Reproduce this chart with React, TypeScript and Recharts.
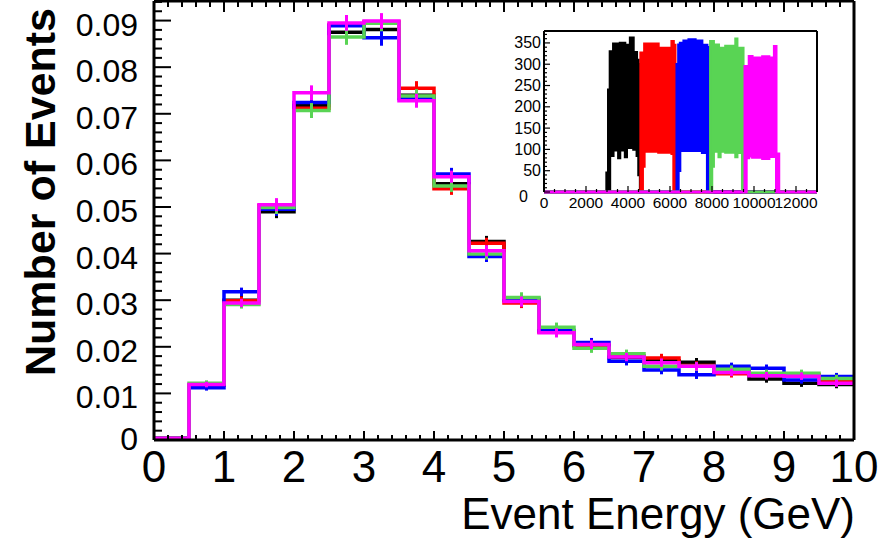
import React from 'react'
import { ComposedChart, Line, Scatter, ErrorBar, Area, XAxis, YAxis } from 'recharts'

const FONT = '"Liberation Sans", Arial, Helvetica, sans-serif'

// 20 energy bins of 0.5 GeV
const binEdges = [0, 0.5, 1, 1.5, 2, 2.5, 3, 3.5, 4, 4.5, 5, 5.5, 6, 6.5, 7, 7.5, 8, 8.5, 9, 9.5, 10]

// normalised event counts per bin, one list per sample
const blackCounts = [0.0004, 0.0118, 0.03, 0.049, 0.0718, 0.0875, 0.0881, 0.074, 0.055, 0.0426, 0.03, 0.0233, 0.0203, 0.0177, 0.017, 0.0167, 0.015, 0.0131, 0.0122, 0.0119]
const redCounts = [0.0004, 0.0118, 0.0299, 0.0503, 0.0712, 0.0891, 0.0897, 0.0755, 0.0539, 0.0422, 0.0294, 0.0232, 0.0203, 0.018, 0.0176, 0.016, 0.0142, 0.014, 0.014, 0.0125]
const blueCounts = [0.0004, 0.0112, 0.0318, 0.0495, 0.0724, 0.0889, 0.0863, 0.0733, 0.0571, 0.0394, 0.0302, 0.0235, 0.0209, 0.0169, 0.015, 0.014, 0.0158, 0.0154, 0.0129, 0.0136]
const greenCounts = [0.0004, 0.0122, 0.0291, 0.0499, 0.0707, 0.0865, 0.0894, 0.0738, 0.0545, 0.0399, 0.0306, 0.0242, 0.0197, 0.0185, 0.0158, 0.0158, 0.0152, 0.0143, 0.0143, 0.0132]
const magentaCounts = [0.0004, 0.0119, 0.0294, 0.0505, 0.0745, 0.0895, 0.0899, 0.0728, 0.0565, 0.0406, 0.0297, 0.023, 0.0205, 0.0178, 0.0166, 0.0158, 0.0145, 0.0138, 0.0137, 0.0122]

// statistical error per bin
const binErrors = [0.0002, 0.0006, 0.0009, 0.0014, 0.0016, 0.0017, 0.0017, 0.0015, 0.0013, 0.0012, 0.0011, 0.001, 0.001, 0.0009, 0.0009, 0.0009, 0.0008, 0.0008, 0.0008, 0.0008]

const xMajorTicks = [0, 1, 2, 3, 4, 5, 6, 7, 8, 9, 10]
const yMajorTicks = [0, 0.01, 0.02, 0.03, 0.04, 0.05, 0.06, 0.07, 0.08, 0.09]

// inset: raw spectra, [channel, lower envelope, upper envelope]
type Env = [number, number, number][]
const insetBlack: Env = [
  [0, 0, 0], [2980, 0, 45], [3060, 0, 240], [3140, 85, 330], [3300, 98, 348], [3540, 80, 345],
  [3620, 98, 350], [3860, 82, 340], [3940, 104, 345], [4100, 104, 362], [4260, 100, 328],
  [4420, 85, 310], [4500, 40, 300], [4580, 0, 0], [13000, 0, 0],
]
const insetRed: Env = [
  [0, 0, 0], [4600, 0, 327], [4700, 60, 327], [4780, 95, 348], [5450, 93, 338], [6080, 90, 354],
  [6170, 0, 345], [6250, 0, 0], [13000, 0, 0],
]
const insetBlue: Env = [
  [0, 0, 0], [6320, 0, 300], [6400, 50, 346], [6480, 97, 350], [6650, 97, 355], [6890, 97, 358],
  [7210, 97, 355], [7530, 92, 345], [7770, 0, 340], [7890, 0, 0], [13000, 0, 0],
]
const insetGreen: Env = [
  [0, 0, 0], [7920, 0, 354], [8000, 60, 354], [8080, 95, 346], [8320, 82, 338], [8400, 95, 338],
  [8640, 93, 343], [9120, 82, 360], [9200, 92, 338], [9440, 0, 338], [9490, 0, 0], [13000, 0, 0],
]
const insetMagenta: Env = [
  [0, 0, 0], [9560, 0, 295], [9640, 80, 295], [9760, 84, 319], [9920, 81, 315], [10400, 78, 318],
  [10720, 83, 315], [10960, 85, 342], [11060, 0, 90], [11190, 0, 0], [13000, 0, 0],
]
const insetXMajor = [0, 2000, 4000, 6000, 8000, 10000, 12000]
const insetYMajor = [0, 50, 100, 150, 200, 250, 300, 350]

const Y_MAX = 0.0942
const INSET_X_MAX = 13000
const INSET_Y_MAX = 378

const series = [
  { key: 'black', color: '#000000', counts: blackCounts, inset: insetBlack },
  { key: 'red', color: '#ff0000', counts: redCounts, inset: insetRed },
  { key: 'blue', color: '#0000ff', counts: blueCounts, inset: insetBlue },
  { key: 'green', color: '#59d454', counts: greenCounts, inset: insetGreen },
  { key: 'magenta', color: '#ff00ff', counts: magentaCounts, inset: insetMagenta },
]

const steps = (to: number, step: number) => {
  const out: number[] = []
  for (let i = 0; i * step <= to + 1e-9; i++) out.push(Math.round(i * step * 1e6) / 1e6)
  return out
}

// step-line rows: one per bin edge, last edge repeats the last bin to close the step
const stepRows = binEdges.map((x, i) => {
  const row: Record<string, number> = { x }
  const k = Math.min(i, binEdges.length - 2)
  series.forEach((s) => (row[s.key] = s.counts[k]))
  return row
})

const errorRows = (counts: number[]) =>
  counts.map((v, i) => ({ x: (binEdges[i] + binEdges[i + 1]) / 2, y: v, err: binErrors[i] }))

const isMajor = (list: number[], v: number) => list.some((m) => Math.abs(m - v) < 1e-9)

type Side = 'bottom' | 'top' | 'left' | 'right'

// ROOT-style ticks: drawn inward from the frame, labels only on majors
function frameTick(
  side: Side,
  majors: number[],
  majorLen: number,
  minorLen: number,
  strokeWidth: number,
  label?: (x: number, y: number, v: number) => React.ReactNode
) {
  return (props: any) => {
    const { x, y, payload } = props
    const v = payload.value
    const major = isMajor(majors, v)
    const len = major ? majorLen : minorLen
    let x2 = x
    let y2 = y
    if (side === 'bottom') y2 = y - len
    if (side === 'top') y2 = y + len
    if (side === 'left') x2 = x + len
    if (side === 'right') x2 = x - len
    return (
      <g>
        <line x1={x} y1={y} x2={x2} y2={y2} stroke="#000" strokeWidth={strokeWidth} />
        {major && label ? label(x, y, v) : null}
      </g>
    )
  }
}

const mainXLabel = (x: number, y: number, v: number) => (
  <text x={x} y={y + 42} textAnchor="middle" fontSize={44} fontFamily={FONT} fill="#000">
    {v}
  </text>
)
const mainYLabel = (x: number, y: number, v: number) => (
  <text x={x - 16} y={v === 0 ? y + 10 : y + 15} textAnchor="end" fontSize={32} fontFamily={FONT} fill="#000">
    {v === 0 ? '0' : v.toFixed(2)}
  </text>
)
const insetXLabel = (x: number, y: number, v: number) => (
  <text x={x} y={y + 16} textAnchor="middle" fontSize={15.5} fontFamily={FONT} fill="#000">
    {v}
  </text>
)
const insetYLabel = (x: number, y: number, v: number) => (
  <text x={v === 0 ? x - 16 : x - 3} y={v === 0 ? y + 10 : y + 5.5} textAnchor="end" fontSize={16} fontFamily={FONT} fill="#000">
    {v}
  </text>
)

const frame = { stroke: '#000', strokeWidth: 3 }
const insetFrame = { stroke: '#000', strokeWidth: 2 }
// axes take 1px so they still render; ticks are drawn by frameTick
const axisBase = { tickSize: 0, tickMargin: 0, tickLine: false, interval: 0 as const }

const hidden = () => <g />

function MainPlot() {
  const xTicks = steps(10, 0.2)
  const yTicks = steps(Y_MAX, 0.002)
  return (
    <ComposedChart width={895} height={540} data={stepRows} margin={{ top: 0, right: 40, bottom: 99, left: 153 }}>
      <XAxis xAxisId="b" dataKey="x" type="number" domain={[0, 10]} ticks={xTicks} height={1} axisLine={frame}
        tick={frameTick('bottom', xMajorTicks, 9, 5, 2, mainXLabel)} {...axisBase} />
      <XAxis xAxisId="t" orientation="top" dataKey="x" type="number" domain={[0, 10]} ticks={xTicks} height={1} axisLine={frame}
        tick={frameTick('top', xMajorTicks, 11, 6, 2)} {...axisBase} />
      <YAxis yAxisId="l" type="number" domain={[0, Y_MAX]} ticks={yTicks} width={1} axisLine={frame}
        tick={frameTick('left', yMajorTicks, 17, 8, 2, mainYLabel)} {...axisBase} />
      <YAxis yAxisId="r" orientation="right" type="number" domain={[0, Y_MAX]} ticks={yTicks} width={1} axisLine={frame}
        tick={frameTick('right', yMajorTicks, 12, 6, 2)} {...axisBase} />
      {series.map((s) => [
        <Line key={s.key + '-h'} xAxisId="b" yAxisId="l" type="stepAfter" dataKey={s.key} stroke={s.color}
          strokeWidth={3.5} dot={false} activeDot={false} isAnimationActive={false} />,
        <Scatter key={s.key + '-e'} xAxisId="b" yAxisId="l" data={errorRows(s.counts)} dataKey="y"
          shape={hidden} isAnimationActive={false}>
          <ErrorBar dataKey="err" direction="y" width={0} stroke={s.color} strokeWidth={3} isAnimationActive={false} />
        </Scatter>,
      ])}
    </ComposedChart>
  )
}

function InsetPlot() {
  const xTicks = steps(INSET_X_MAX, 500)
  const yTicks = steps(INSET_Y_MAX, 10)
  return (
    <ComposedChart width={895} height={540} margin={{ top: 30, right: 77, bottom: 347, left: 543 }}>
      {/* bottom edge is covered by the spectra's zero lines, so no frame line there */}
      <XAxis xAxisId="b" dataKey="x" type="number" domain={[0, INSET_X_MAX]} ticks={xTicks} height={1} axisLine={false}
        tick={frameTick('bottom', insetXMajor, 6, 3, 1.2, insetXLabel)} {...axisBase} />
      <XAxis xAxisId="t" orientation="top" dataKey="x" type="number" domain={[0, INSET_X_MAX]} ticks={xTicks} height={1} axisLine={insetFrame}
        tick={frameTick('top', insetXMajor, 6, 3, 1.2)} {...axisBase} />
      <YAxis yAxisId="l" type="number" domain={[0, INSET_Y_MAX]} ticks={yTicks} width={1} axisLine={insetFrame}
        tick={frameTick('left', insetYMajor, 6, 3, 1.2, insetYLabel)} {...axisBase} />
      <YAxis yAxisId="r" orientation="right" type="number" domain={[0, INSET_Y_MAX]} ticks={yTicks} width={1} axisLine={insetFrame}
        tick={frameTick('right', insetYMajor, 6, 3, 1.2)} {...axisBase} />
      {series.map((s) => (
        <Area key={s.key} xAxisId="b" yAxisId="l" type="stepAfter"
          data={s.inset.map(([x, lo, hi]) => ({ x, band: [lo, hi] }))} dataKey="band"
          stroke={s.color} strokeWidth={2.5} fill={s.color} fillOpacity={1} dot={false} activeDot={false}
          isAnimationActive={false} />
      ))}
    </ComposedChart>
  )
}

export default function App() {
  const layer: React.CSSProperties = { position: 'absolute', left: 0, top: 0 }
  return (
    <div style={{ position: 'absolute', left: 0, top: 0, width: 895, height: 540, background: '#fff', overflow: 'hidden' }}>
      <div style={layer}>
        <MainPlot />
      </div>
      <div style={layer}>
        <InsetPlot />
      </div>
      <svg width={895} height={540} style={{ ...layer, pointerEvents: 'none' }}>
        <text x={855} y={529} textAnchor="end" fontSize={44} fontFamily={FONT} fill="#000">
          Event Energy (GeV)
        </text>
        <text transform="translate(55,192) rotate(-90)" textAnchor="middle" fontSize={43} fontWeight="bold"
          fontFamily={FONT} fill="#000">
          Number of Events
        </text>
      </svg>
    </div>
  )
}
